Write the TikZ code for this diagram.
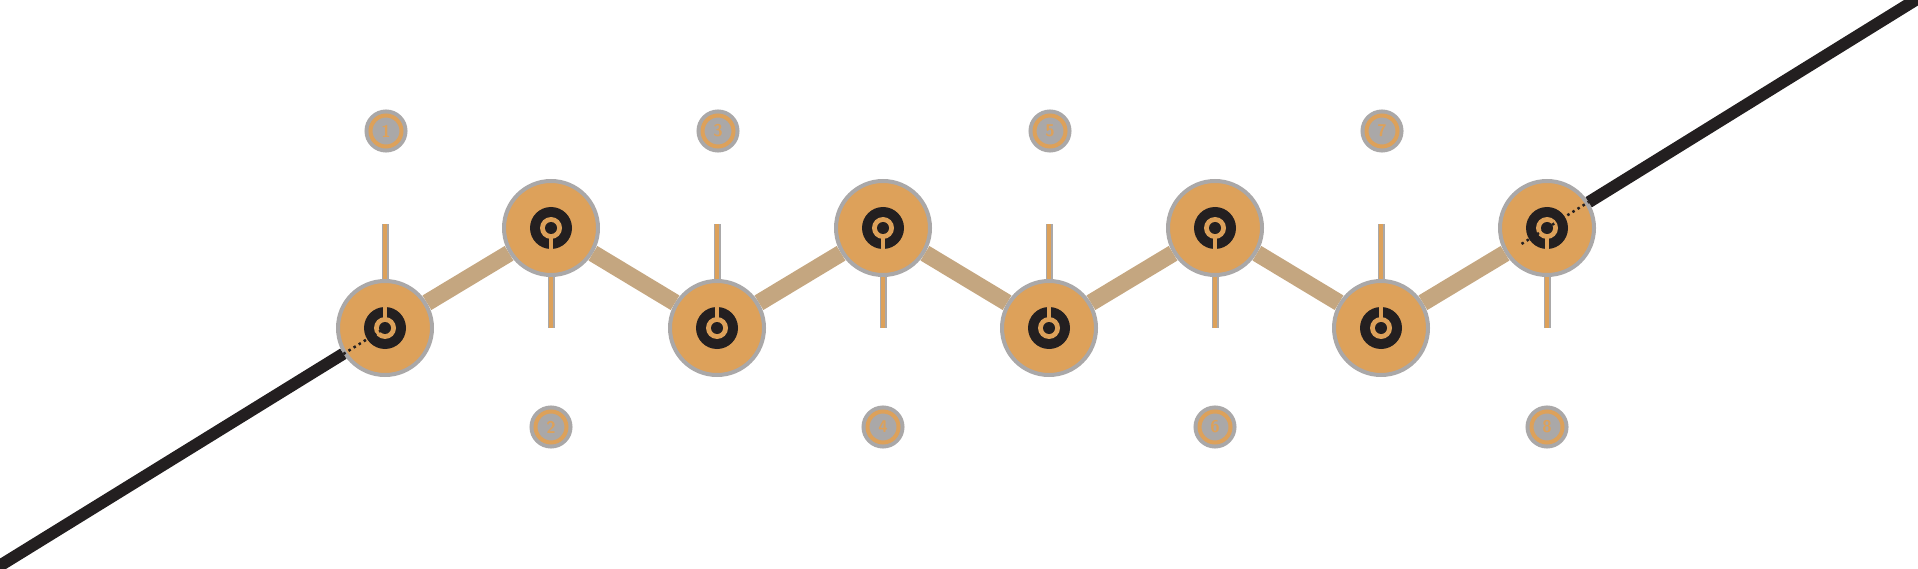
\documentclass[tikz,border=0pt]{standalone}
\usepackage{tikz}
\usetikzlibrary{positioning}
\definecolor{amber}{HTML}{DDA15A}
\definecolor{haze}{HTML}{AAA8A8}
\definecolor{ink}{HTML}{231F20}
\definecolor{rope}{HTML}{C4A680}
\newcommand{\beadcore}[1]{%
	\fill [ink] (path picture bounding box.center) circle (21pt);
	\fill [amber] (path picture bounding box.center) circle (11pt);
	\fill [ink] (path picture bounding box.center) circle (6pt);
	\draw [amber, line width = 3.5pt] (path picture bounding box.center) ++(#1:8pt) -- ++(#1:14pt);
}
\tikzset{% 
	bead/.style = {name = #1, circle, fill = amber, draw = haze, line width = 4pt, minimum size = 94pt, inner sep = 0pt},
	low/.style = {bead = #1, path picture = {\beadcore{90}}},
	high/.style = {bead = #1, path picture = {\beadcore{270}}},
	tag/.style = {name = #1, circle, fill = haze, draw = amber, line width = 4pt, minimum size = 31pt, inner sep = 0pt, text = amber, font = \sffamily\bfseries\fontsize{17}{17}\selectfont, preaction = {draw = haze, line width = 12pt}},
	stem/.style = {draw = haze, line width = 7pt, postaction = {draw = amber, line width = 4pt}},
	link/.style = {draw = rope, line width = 17pt},
	wire/.style = {draw = ink, line width = 12pt},
	dots/.style = {draw = ink, line width = 2.5pt, dash pattern = on 2.5pt off 3.5pt}
}
\begin{document}
\begin{tikzpicture}[x = 1pt, y = -1pt]
			\useasboundingbox (0,0) rectangle (1918,569);
			\coordinate (sw) at (-12,573);
			\coordinate (ne) at (1930,-9);
			\node [low = n1] at (385,328) {};
			\node [high = n2] at (551,228) {};
			\node [low = n3] at (717,328) {};
			\node [high = n4] at (883,228) {};
			\node [low = n5] at (1049,328) {};
			\node [high = n6] at (1215,228) {};
			\node [low = n7] at (1381,328) {};
			\node [high = n8] at (1547,228) {};
			\node [tag = t1] at (386,131) {1};
			\node [tag = t2] at (551,427) {2};
			\node [tag = t3] at (718,131) {3};
			\node [tag = t4] at (883,427) {4};
			\node [tag = t5] at (1050,131) {5};
			\node [tag = t6] at (1215,427) {6};
			\node [tag = t7] at (1382,131) {7};
			\node [tag = t8] at (1547,427) {8};
			\coordinate (s1) at (385,224);
			\coordinate (s2) at (551,328);
			\coordinate (s3) at (717,224);
			\coordinate (s4) at (883,328);
			\coordinate (s5) at (1049,224);
			\coordinate (s6) at (1215,328);
			\coordinate (s7) at (1381,224);
			\coordinate (s8) at (1547,328);
			\draw [stem] (s1) -- (n1);
			\draw [stem] (s2) -- (n2);
			\draw [stem] (s3) -- (n3);
			\draw [stem] (s4) -- (n4);
			\draw [stem] (s5) -- (n5);
			\draw [stem] (s6) -- (n6);
			\draw [stem] (s7) -- (n7);
			\draw [stem] (s8) -- (n8);
			\draw [link] (n1) -- (n2);
			\draw [link] (n2) -- (n3);
			\draw [link] (n3) -- (n4);
			\draw [link] (n4) -- (n5);
			\draw [link] (n5) -- (n6);
			\draw [link] (n6) -- (n7);
			\draw [link] (n7) -- (n8);
			\draw [wire] (sw) -- (n1);
			\draw [wire] (n8) -- (ne);
			\draw [dots] (n1.212) -- (n1.center);
			\draw [dots] (n8.center) ++(212:30pt) -- (n8.32);
			\end{tikzpicture}
\end{document}
